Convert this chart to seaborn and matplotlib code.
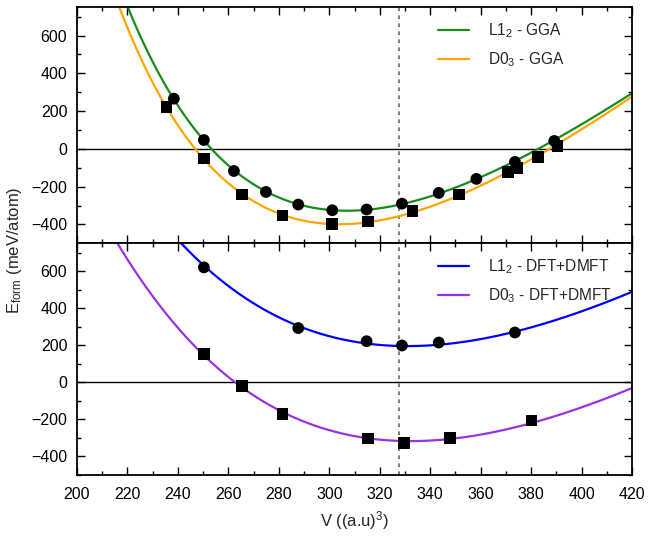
import numpy as np
import pandas as pd
import matplotlib
matplotlib.use("Agg")
import matplotlib.pyplot as plt
from matplotlib.ticker import MultipleLocator
import seaborn as sns

# Formation energy vs. volume, computed points
v_l12_gga = [238.4, 250.3, 262.2, 274.9, 287.7, 301.2, 314.8, 328.8, 343.4, 358.3, 373.6, 389.2]
e_l12_gga = [266, 47, -117, -228, -295, -325, -321, -290, -233, -159, -69, 42]
v_d03_gga = [235.5, 250.3, 265.3, 281.5, 301.1, 315.2, 333.0, 351.3, 370.7, 374.5, 382.6, 390.5]
e_d03_gga = [222, -51, -242, -353, -396, -385, -328, -242, -124, -103, -42, 14]
v_l12_dmft = [250.3, 287.7, 314.8, 328.8, 343.4, 373.6]
e_l12_dmft = [620, 292, 221, 198, 214, 268]
v_d03_dmft = [250.3, 265.3, 281.5, 315.5, 329.6, 347.8, 380.2]
e_d03_dmft = [152, -20, -172, -305, -328, -303, -207]

# Birch-Murnaghan EOS fit parameters: (E0, V0, B0, B0')
eos_l12_gga = (-327.5, 307.0, 50.665, 4.0)
eos_d03_gga = (-399.0, 304.0, 52.558, 4.0)
eos_l12_dmft = (194.7, 331.0, 32.900, 2.5)
eos_d03_dmft = (-318.5, 332.25, 33.365, 2.65)

v_exp = 327.7  # reference volume (dashed line)

labels_top = [r"L1$_2$ - GGA", r"D0$_3$ - GGA"]
labels_bot = [r"L1$_2$ - DFT+DMFT", r"D0$_3$ - DFT+DMFT"]
colors_top = ["#1a8a1a", "#ffa500"]
colors_bot = ["#0000ff", "#9932e0"]

sns.set_theme(style="ticks")
plt.rcParams["font.family"] = ["Liberation Sans", "DejaVu Sans"]
plt.rcParams["mathtext.fontset"] = "custom"
plt.rcParams["mathtext.rm"] = "Liberation Sans"
plt.rcParams["mathtext.it"] = "Liberation Sans"


def birch_murnaghan(v, params):
    e0, v0, b0, bp = params
    eta = (v0 / v) ** (2.0 / 3.0)
    return e0 + 9.0 * v0 * b0 / 16.0 * ((eta - 1) ** 3 * bp + (eta - 1) ** 2 * (6 - 4 * eta))


fig = plt.figure(figsize=(6.49, 5.37), dpi=100)
W, H = 649, 537
x0, x1 = 77, 632
ax_top = fig.add_axes([x0 / W, 1 - 243.3 / H, (x1 - x0) / W, (243.3 - 7.3) / H])
ax_bot = fig.add_axes([x0 / W, 1 - 474.7 / H, (x1 - x0) / W, (474.7 - 243.3) / H])

grid = np.linspace(200, 420, 600)

panels = [
    (ax_top,
     [(v_l12_gga, e_l12_gga, "o", eos_l12_gga), (v_d03_gga, e_d03_gga, "s", eos_d03_gga)],
     labels_top, colors_top),
    (ax_bot,
     [(v_l12_dmft, e_l12_dmft, "o", eos_l12_dmft), (v_d03_dmft, e_d03_dmft, "s", eos_d03_dmft)],
     labels_bot, colors_bot),
]

for ax, series, labels, colors in panels:
    ax.axhline(0, color="black", lw=1.0, zorder=1)
    ax.axvline(v_exp, color="#666666", lw=1.2, ls=(0, (2.2, 2.6)), zorder=1)
    for (v, e, m, eos), lab, col in zip(series, labels, colors):
        fit = pd.DataFrame({"V": grid, "E": birch_murnaghan(grid, eos)})
        sns.lineplot(data=fit, x="V", y="E", ax=ax, color=col, lw=1.6,
                     label=lab, zorder=2)
    for (v, e, m, eos), lab, col in zip(series, labels, colors):
        pts = pd.DataFrame({"V": v, "E": e})
        sns.scatterplot(data=pts, x="V", y="E", ax=ax, marker=m, s=72,
                        color="black", edgecolor="none", zorder=3, legend=False)
    ax.set_xlim(200, 420)
    ax.set_ylim(-500, 750)
    ax.xaxis.set_major_locator(MultipleLocator(20))
    ax.xaxis.set_minor_locator(MultipleLocator(10))
    ax.yaxis.set_major_locator(MultipleLocator(200))
    ax.yaxis.set_minor_locator(MultipleLocator(100))
    ax.tick_params(which="both", direction="in", top=True, right=True,
                   width=1.0, colors="black", labelsize=11.5)
    ax.tick_params(which="major", length=6)
    ax.tick_params(which="minor", length=3)
    ax.tick_params(axis="y", pad=7)
    ax.tick_params(axis="x", pad=9)
    for sp in ax.spines.values():
        sp.set_linewidth(1.3)
        sp.set_color("black")
    ax.set_xlabel("")
    ax.set_ylabel("")
    ax.legend(loc="upper left", bbox_to_anchor=(0.639, 0.965), frameon=False,
              fontsize=11.2, handlelength=2.0, handletextpad=1.22,
              labelspacing=0.62, borderaxespad=0.0)

ax_top.tick_params(axis="x", labelbottom=False)
ax_bot.set_xlabel(r"V ((a.u)$^3$)", fontsize=12, labelpad=5)
fig.text(0.022, 1 - 250 / H, r"E$_{\mathrm{form}}$ (meV/atom)", rotation=90,
         va="center", ha="center", fontsize=12)

fig.savefig("out.png", dpi=100)
